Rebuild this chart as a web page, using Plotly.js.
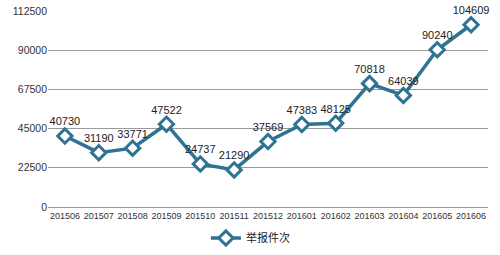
<!DOCTYPE html>
<html>
<head>
<meta charset="utf-8">
<script src="https://cdn.plot.ly/plotly-3.0.1.min.js"></script>
<style>html,body{margin:0;padding:0;background:#fff;}#chart{width:500px;height:255px;}</style>
</head>
<body>
<div id="chart"></div>
<script>
const months = ["201506","201507","201508","201509","201510","201511","201512","201601","201602","201603","201604","201605","201606"];
const reports = [40730,31190,33771,47522,24737,21290,37569,47383,48125,70818,64039,90240,104609];
const yTicks = [0,22500,45000,67500,90000,112500];
const seriesName = "举报件次";

const trace = {
  x: months,
  y: reports,
  type: "scatter",
  mode: "lines+markers+text",
  name: seriesName,
  text: reports.map(String),
  textposition: "top center",
  textfont: {family: "Liberation Sans, Arial, sans-serif", size: 11, color: "#222"},
  line: {color: "#2f7393", width: 3.5},
  marker: {symbol: "diamond", size: 11, color: "#ffffff", line: {color: "#2f7393", width: 3}},
  cliponaxis: false
};

const layout = {
  width: 500, height: 255,
  margin: {l: 48, r: 12, t: 11, b: 48, autoexpand: false},
  paper_bgcolor: "#fff", plot_bgcolor: "#fff",
  font: {family: "Liberation Sans, Arial, sans-serif", color: "#333"},
  xaxis: {
    type: "category",
    range: [-0.5, 12.5],
    showgrid: false,
    showline: true, linecolor: "#999", linewidth: 1,
    ticks: "", tickfont: {size: 9, color: "#333"},
    fixedrange: true
  },
  yaxis: {
    range: [0, 112500],
    tickvals: yTicks,
    ticktext: yTicks.map(String),
    showgrid: true, gridcolor: "#9a9a9a", gridwidth: 1,
    zeroline: false, showline: false,
    ticks: "", tickfont: {size: 10.5, color: "#333"},
    fixedrange: true
  },
  showlegend: true,
  legend: {
    orientation: "h",
    x: 0.46, xanchor: "center",
    y: -0.158, yanchor: "middle",
    font: {family: "Noto Sans CJK SC, sans-serif", size: 11, color: "#222"}
  }
};

Plotly.newPlot("chart", [trace], layout, {displayModeBar: false, staticPlot: true});
</script>
</body>
</html>
